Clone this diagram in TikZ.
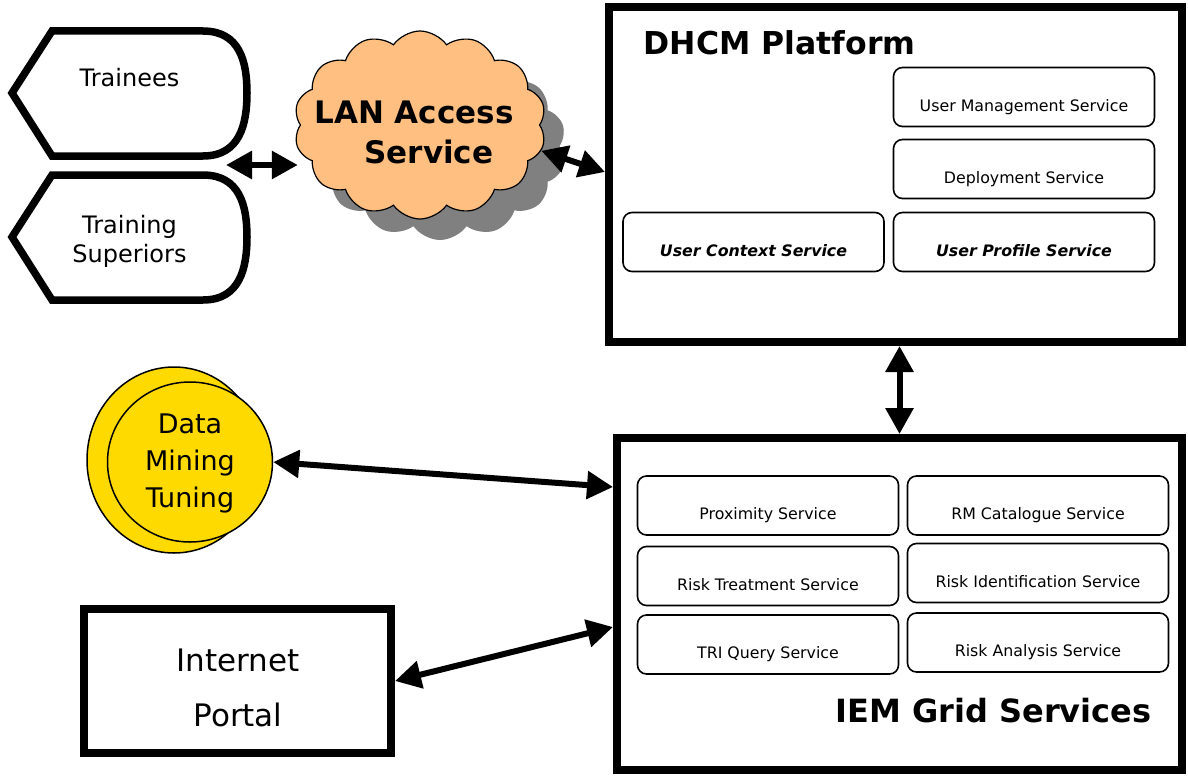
\documentclass[tikz,border=0pt]{standalone}
\usepackage{fontspec}
\setmainfont{DejaVu Sans}
\usetikzlibrary{arrows.meta,shapes.symbols,shapes.geometric}
\definecolor{cloudorange}{HTML}{FFBF80}
\definecolor{dmyellow}{HTML}{FFDA00}
\definecolor{shadowgray}{HTML}{808080}
\newcommand{\fsz}[2]{\fontsize{#1}{#2}\selectfont}
\begin{document}
\begin{tikzpicture}[x=1pt,y=-1pt,
  bigbox/.style={draw, line width=8pt, rectangle, inner sep=0pt},
  svc/.style={draw, line width=1.6pt, rounded corners=9pt, minimum width=261pt, minimum height=59pt,
    text height=28pt, text depth=0pt, inner sep=0pt, font=\fsz{15.8}{18}},
  svcb/.style={svc, font=\fsz{15.8}{18}\bfseries\itshape},
  dbl/.style={line width=6pt, {Triangle[length=26pt,width=27pt]}-{Triangle[length=26pt,width=27pt]}},
  usershape/.style={draw, line width=7.5pt, line join=miter},
  cloudshape/.style={cloud, cloud puffs=14, cloud puff arc=110, cloud ignores aspect,
    minimum width=252pt, minimum height=188pt, inner sep=0pt},
  dmshape/.style={ellipse, draw, line width=1.5pt, fill=dmyellow, inner sep=0pt}
]
\useasboundingbox (0,0) rectangle (1188,776);

% users
\draw[usershape] (12,93) -- (52,31) -- (203,31) .. controls (240,31) and (247,62) .. (247,93)
  .. controls (247,124) and (240,156) .. (203,156) -- (52,156) -- cycle;
\node[font=\fsz{24}{29}] (trainees) at (129.5,78) {Trainees};
\draw[usershape] (12,237) -- (52,175) -- (203,175) .. controls (240,175) and (247,206) .. (247,237)
  .. controls (247,268) and (240,300) .. (203,300) -- (52,300) -- cycle;
\node[font=\fsz{24}{29}, align=center] (superiors) at (129.5,241.5) {Training\\Superiors};
\coordinate (users) at (226,165);

% cloud
\node[cloudshape, fill=shadowgray] (cloudshadow) at (440,146) {};
\node[cloudshape, draw, line width=1.2pt, fill=cloudorange] (cloud) at (420,125) {};
\node[font=\fsz{31}{40}\bfseries, align=left] (lan) at (414,132) {LAN Access\\\hspace*{50pt}Service};

% DHCM platform
\node[bigbox, minimum width=573pt, minimum height=335pt] (dhcm) at (895.5,174.5) {};
\node[font=\bfseries\fsz{31.5}{37}, anchor=base west] (dhcmtitle) at (640,55) {DHCM Platform};
\node[svc] (ums) at (1024,97) {User Management Service};
\node[svc] (dep) at (1024,169) {Deployment Service};
\node[svcb] (ucs) at (753.5,242) {User Context Service};
\node[svcb] (ups) at (1024,242) {User Profile Service};

% IEM grid services
\node[bigbox, minimum width=565pt, minimum height=332pt] (iem) at (899.5,604) {};
\node[font=\bfseries\fsz{32}{38}, anchor=base east] (iemtitle) at (1155,722) {IEM Grid Services};
\node[svc] (prox) at (768,505.5) {Proximity Service};
\node[svc] (rmc) at (1038,505.5) {RM Catalogue Service};
\node[svc] (rts) at (768,576) {Risk Treatment Service};
\node[svc] (ris) at (1038,573) {Risk Identification Service};
\node[svc] (tri) at (768,644.5) {TRI Query Service};
\node[svc] (ras) at (1038,642.5) {Risk Analysis Service};

% data mining
\node[dmshape, minimum width=174pt, minimum height=186pt] (dmback) at (174,460) {};
\node[dmshape, minimum width=165pt, minimum height=160pt] (dm) at (190,462) {};
\node[font=\fsz{27}{37}, align=center] (dmtext) at (190,463) {Data\\Mining\\Tuning};

% internet portal
\node[bigbox, minimum width=307pt, minimum height=144pt] (portal) at (237.5,681) {};
\node[font=\fsz{31}{55}, align=center] (portaltext) at (238,688) {Internet\\Portal};

% connectors
\draw[dbl, shorten >=2pt] (users) -- (users -| cloud.west);
\draw[dbl] (cloud.-12) -- (dhcm.west |- 0,172);
\draw[dbl] (iem.north |- dhcm.south) -- (iem.north);
\draw[dbl] (dm.east) -- (iem.west |- 0,487);
\draw[dbl] (portal.east) -- (iem.west |- 0,627);
\end{tikzpicture}
\end{document}
